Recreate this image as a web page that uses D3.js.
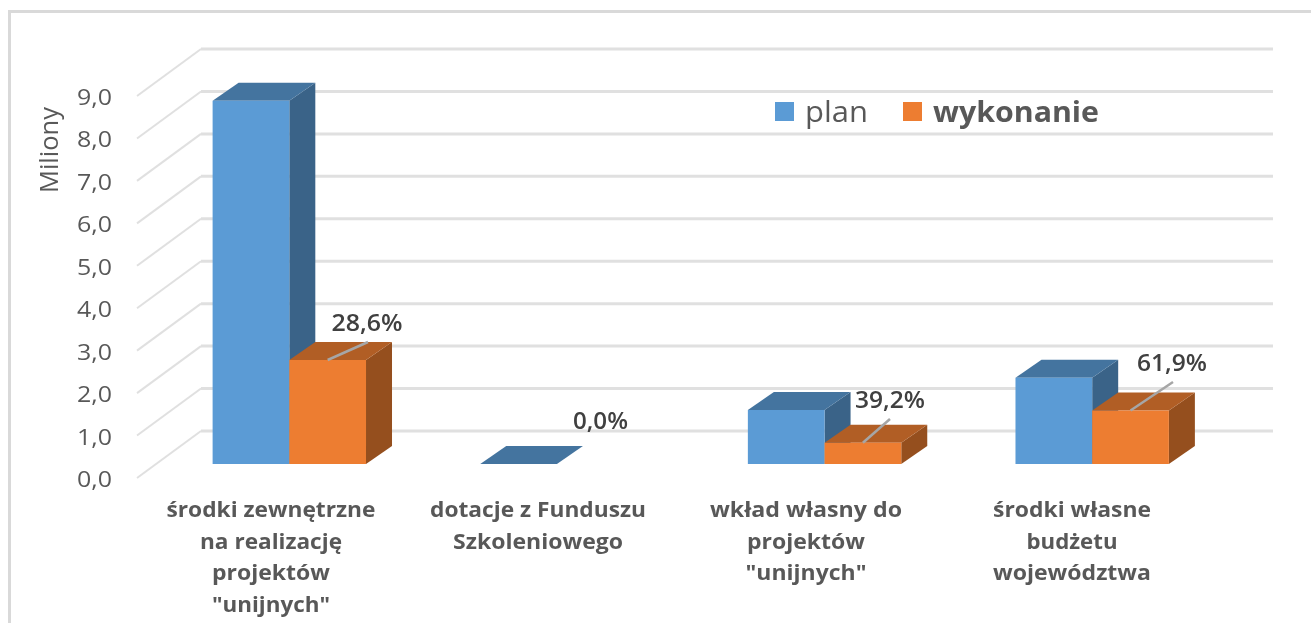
<!DOCTYPE html>
<html><head><meta charset="utf-8">
<script src="https://cdn.jsdelivr.net/npm/d3@7"></script>
<style>html,body{margin:0;padding:0;background:#fff}svg{display:block}
text{font-family:"Open Sans",sans-serif}</style></head><body>
<svg id="c" width="1311" height="623"></svg>
<script>
const categories=[["środki zewnętrzne","na realizację","projektów","\"unijnych\""],["dotacje z Funduszu","Szkoleniowego"],["wkład własny do","projektów","\"unijnych\""],["środki własne","budżetu","województwa"]];
const plan=[8.56,0.0,1.27,2.03];
const wykonanie=[2.45,0.0,0.5,1.26];
const percentLabels=["28,6%","0,0%","39,2%","61,9%"];
const tickValues=[0,1,2,3,4,5,6,7,8,9];
const seriesNames=["plan","wykonanie"];
const axisTitle="Miliony";

const svg=d3.select("#c");
const defs=svg.append("defs");
defs.append("filter").attr("id","soft").attr("x","-5%").attr("y","-20%").attr("width","110%").attr("height","140%")
  .append("feGaussianBlur").attr("stdDeviation",0.55);
svg.append("path").attr("d","M1311,11.5H9.5V623").attr("fill","none").attr("stroke","#d9d9d9").attr("stroke-width",3);
const y=d3.scaleLinear().domain([0,9]).range([478,96]);
const wallDx=64,wallDy=-47,barDx=26,barDy=-18,barBase=464;
const yBar=d3.scaleLinear().domain([0,9]).range([barBase,barBase-382]);
const x=d3.scaleBand().domain(d3.range(4)).range([155.5,1226]);
const bw=76.7;
const cx=i=>x(i)+x.bandwidth()/2;
// gridlines
const grid=svg.append("g").attr("fill","none");
const line=d3.line();
tickValues.forEach(t=>{
  const yy=y(t);
  grid.append("path").attr("d",line([[137,yy],[137+wallDx,yy+wallDy]])).attr("stroke","#e0e0e0").attr("stroke-width",2);
  grid.append("path").attr("d",line([[137+wallDx,yy+wallDy],[1273,yy+wallDy]])).attr("stroke","#e0e0e0").attr("stroke-width",3);
});
const txt=svg.append("g").attr("filter","url(#soft)");
function label(g,s,px,py,size,weight,fill,width){
  return g.append("text").attr("x",px).attr("y",py).attr("text-anchor","middle")
    .attr("font-size",size).attr("font-weight",weight).attr("fill",fill)
    .attr("textLength",width).attr("lengthAdjust","spacingAndGlyphs").text(s);
}
// tick labels
tickValues.forEach(d=>label(txt,d.toFixed(1).replace(".",","),94.5,y(d)+9,21,400,"#595959",35));
label(txt,axisTitle,0,0,25,400,"#595959",86).attr("transform","translate(58,150) rotate(-90)");
// bars
const colors={plan:{f:"#5b9bd5",t:"#44749f",s:"#3a6388"},wyk:{f:"#ed7d31",t:"#b15e25",s:"#954f1e"}};
function bar(g,x0,v,c){
  const top=yBar(v),x1=x0+bw;
  const p=pts=>line(pts)+"Z";
  g.append("path").attr("d",p([[x1,barBase],[x1+barDx,barBase+barDy],[x1+barDx,top+barDy],[x1,top]])).attr("fill",c.s);
  g.append("path").attr("d",p([[x0,top],[x0+barDx,top+barDy],[x1+barDx,top+barDy],[x1,top]])).attr("fill",c.t);
  if(v>0) g.append("path").attr("d",p([[x0,barBase],[x0,top],[x1,top],[x1,barBase]])).attr("fill",c.f);
}
const bars=svg.append("g");
plan.forEach((v,i)=>{
  const g=bars.append("g");
  bar(g,cx(i)-bw,v,colors.plan);
  if(wykonanie[i]>0) bar(g,cx(i),wykonanie[i],colors.wyk);
});
// leader lines
const leaderEnd=[[368,342],null,[890,419],[1173,382]];
wykonanie.forEach((v,i)=>{
  if(leaderEnd[i]) svg.append("line").attr("x1",cx(i)+bw/2).attr("y1",yBar(v)).attr("x2",leaderEnd[i][0]).attr("y2",leaderEnd[i][1]).attr("stroke","#a6a6a6").attr("stroke-width",2.5);
});
// percentages
const pctPos=[[367,331,71],[600.5,429,55],[890,408,70],[1172,371,70]];
percentLabels.forEach((s,i)=>label(txt,s,pctPos[i][0],pctPos[i][1],23,600,"#404040",pctPos[i][2]));
// category labels
const labelCx=[271,538,806,1072];
const labelW=[[209,142,118,118],[216,170],[192,118,121],[158,91,158]];
categories.forEach((lines,i)=>lines.forEach((l,j)=>
  label(txt,l,labelCx[i],517+j*31.7,22,700,"#595959",labelW[i][j])));
// legend
const lg=svg.append("g");
lg.append("rect").attr("x",775).attr("y",102).attr("width",19).attr("height",19).attr("fill",colors.plan.f);
lg.append("rect").attr("x",903).attr("y",102).attr("width",19).attr("height",19).attr("fill",colors.wyk.f);
label(txt,seriesNames[0],836.5,122,29,500,"#595959",63);
label(txt,seriesNames[1],1016,122,29,700,"#595959",166);
</script></body></html>
